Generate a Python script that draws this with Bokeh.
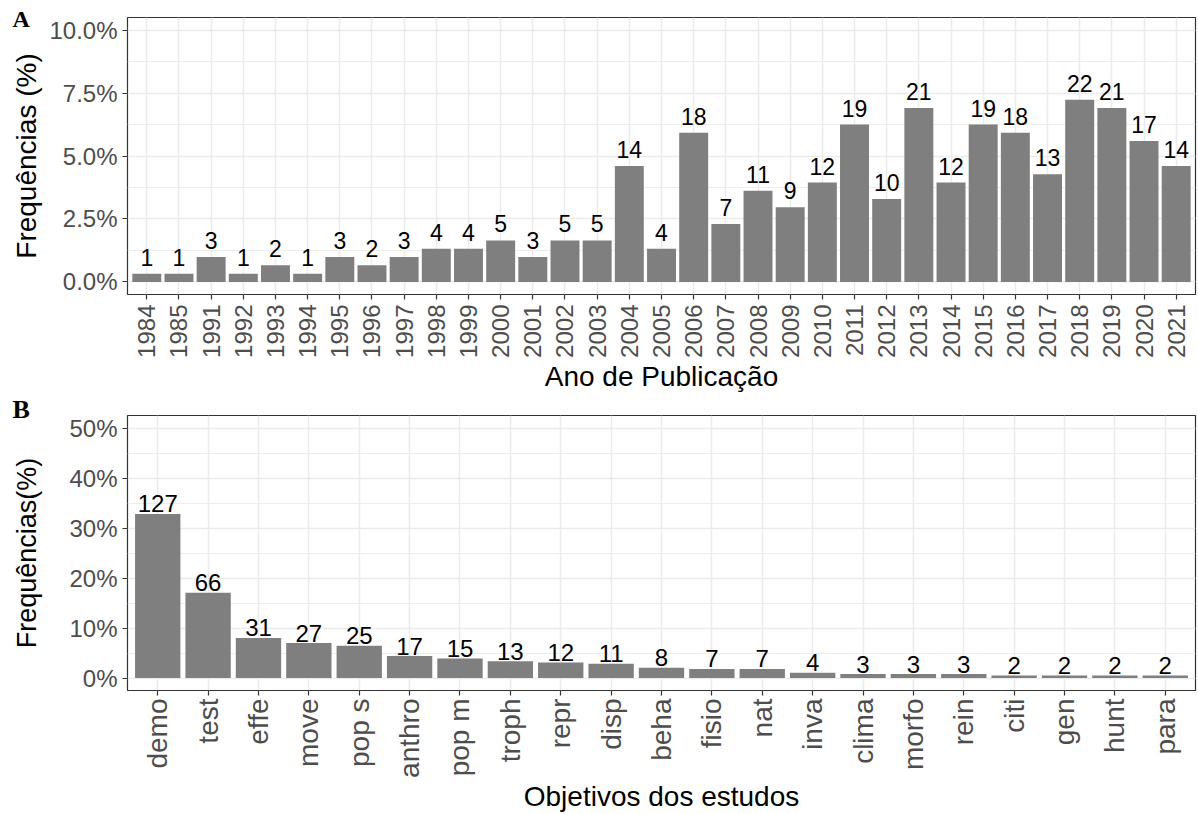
import math
from bokeh.plotting import figure
from bokeh.models import (FixedTicker, PrintfTickFormatter, ColumnDataSource,
                          FactorRange, Range1d)
from bokeh.layouts import column
from bokeh.embed import file_html
from bokeh.resources import INLINE
from bokeh.core.properties import value

# ---------------- data ----------------
years = ["1984", "1985", "1991", "1992", "1993", "1994", "1995", "1996", "1997",
         "1998", "1999", "2000", "2001", "2002", "2003", "2004", "2005", "2006",
         "2007", "2008", "2009", "2010", "2011", "2012", "2013", "2014", "2015",
         "2016", "2017", "2018", "2019", "2020", "2021"]
year_counts = [1, 1, 3, 1, 2, 1, 3, 2, 3, 4, 4, 5, 3, 5, 5, 14, 4, 18, 7, 11, 9,
               12, 19, 10, 21, 12, 19, 18, 13, 22, 21, 17, 14]

objectives = ["demo", "test", "effe", "move", "pop s", "anthro", "pop m", "troph",
              "repr", "disp", "beha", "fisio", "nat", "inva", "clima", "morfo",
              "rein", "citi", "gen", "hunt", "para"]
obj_counts = [127, 66, 31, 27, 25, 17, 15, 13, 12, 11, 8, 7, 7, 4, 3, 3, 3, 2, 2, 2, 2]

a_ticks = [0, 2.5, 5, 7.5, 10]
a_minor = [1.25, 3.75, 6.25, 8.75]
b_ticks = [0, 10, 20, 30, 40, 50]
b_minor = [5, 15, 25, 35, 45]

FONT = "Liberation Sans"
BAR = "#7F7F7F"
GRID = "#EBEBEB"
TICKTXT = "#4D4D4D"
BORDER = "#333333"

totA = sum(year_counts)
totB = sum(obj_counts)
srcA = ColumnDataSource(dict(x=years, pct=[c / totA * 100 for c in year_counts],
                             lab=[str(c) for c in year_counts]))
srcB = ColumnDataSource(dict(x=objectives, pct=[c / totB * 100 for c in obj_counts],
                             lab=[str(c) for c in obj_counts]))


def style(p, xfont, yfont, ytitle, ytitle_size, ystand, ticks, minor, fmt):
    p.outline_line_color = BORDER
    p.outline_line_width = 1.2
    p.background_fill_color = "white"
    p.border_fill_color = "white"
    p.xgrid.grid_line_color = GRID
    p.xgrid.grid_line_width = 1.5
    p.ygrid.grid_line_color = GRID
    p.ygrid.grid_line_width = 1.5
    p.ygrid.minor_grid_line_color = GRID
    p.ygrid.minor_grid_line_width = 0.9
    xa = p.xaxis[0]
    xa.axis_line_color = None
    xa.major_tick_out = 5
    xa.major_tick_in = 0
    xa.major_tick_line_color = BORDER
    xa.major_tick_line_width = 1.2
    xa.major_label_orientation = math.pi / 2
    xa.major_label_text_font = FONT
    xa.major_label_text_font_size = xfont
    xa.major_label_text_color = TICKTXT
    xa.axis_label_text_font = FONT
    xa.axis_label_text_font_size = "28px"
    xa.axis_label_text_font_style = "normal"
    xa.axis_label_text_color = "black"
    ya = p.yaxis[0]
    ya.ticker = FixedTicker(ticks=ticks, minor_ticks=minor)
    ya.formatter = PrintfTickFormatter(format=fmt)
    ya.axis_line_color = None
    ya.major_tick_out = 5
    ya.major_tick_in = 0
    ya.minor_tick_out = 0
    ya.minor_tick_in = 0
    ya.major_tick_line_color = BORDER
    ya.major_tick_line_width = 1.2
    ya.major_label_standoff = 5
    ya.major_label_text_font = FONT
    ya.major_label_text_font_size = yfont
    ya.major_label_text_color = TICKTXT
    ya.axis_label = ytitle
    ya.axis_label_text_font = FONT
    ya.axis_label_text_font_size = ytitle_size
    ya.axis_label_text_font_style = "normal"
    ya.axis_label_text_color = "black"
    ya.axis_label_standoff = ystand


def panel_letter(p, letter, size, offset, standoff):
    t = p.title
    t.text = letter
    t.align = "left"
    t.vertical_align = "bottom"
    t.offset = offset
    t.standoff = standoff
    t.text_font = "Liberation Serif"
    t.text_font_style = "bold"
    t.text_font_size = size
    t.text_color = "black"


# ---------------- panel A ----------------
pA = figure(x_range=FactorRange(*years, range_padding=0.1, range_padding_units="absolute"),
            y_range=Range1d(-0.5, 10.5), width=1198, height=394,
            min_border_left=127, min_border_right=3, min_border_top=17, min_border_bottom=99,
            output_backend="svg", toolbar_location=None)
pA.vbar(x="x", top="pct", width=0.9, source=srcA, fill_color=BAR, line_color=None)
pA.text(x="x", y="pct", text="lab", source=srcA, text_align="center",
        text_baseline="alphabetic", text_font=value(FONT), text_font_size="23px",
        text_color="black", y_offset=-16.5)
style(pA, "24px", "24px", "Frequências (%)", "28px", 4, a_ticks, a_minor, "%.1f%%")
pA.xaxis[0].major_label_standoff = 5
pA.xaxis[0].axis_label = "Ano de Publicação"
pA.xaxis[0].axis_label_standoff = 0
panel_letter(pA, "A", "24px", -115, -28)

# ---------------- panel B ----------------
pB = figure(x_range=FactorRange(*objectives, range_padding=0.1, range_padding_units="absolute"),
            y_range=Range1d(-2.5, 52.5), width=1198, height=420,
            min_border_left=127, min_border_right=3, min_border_top=21, min_border_bottom=121,
            output_backend="svg", toolbar_location=None)
pB.vbar(x="x", top="pct", width=0.9, source=srcB, fill_color=BAR, line_color=None)
pB.text(x="x", y="pct", text="lab", source=srcB, text_align="center",
        text_baseline="alphabetic", text_font=value(FONT), text_font_size="24px",
        text_color="black", y_offset=-10)
style(pB, "28px", "24px", "Frequências(%)", "27px", 24, b_ticks, b_minor, "%d%%")
pB.xaxis[0].major_label_standoff = 3
pB.xaxis[0].axis_label = "Objetivos dos estudos"
pB.xaxis[0].axis_label_standoff = 0
panel_letter(pB, "B", "26px", -115, -16)

layout = column(pA, pB, spacing=0)
open("out.html", "w").write(file_html(layout, INLINE))
